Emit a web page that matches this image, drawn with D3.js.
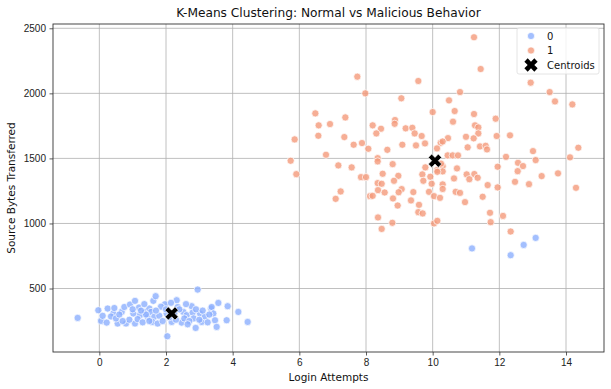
<!DOCTYPE html>
<html>
<head>
<meta charset="utf-8">
<script src="https://cdn.jsdelivr.net/npm/d3@7"></script>
<style>
  body { margin: 0; background: #fff; }
  svg { font-family: "DejaVu Sans", sans-serif; }
</style>
</head>
<body>
<svg id="chart"></svg>
<script>
// Data: [login attempts, source bytes]
const normalPoints = [
  [-0.65, 274], [-0.03, 333], [0.05, 251], [0.25, 346], [0.22, 238], [0.42, 308], [0.35, 285],
  [0.55, 231], [0.67, 320], [0.75, 358], [0.8, 231], [0.92, 377], [1.07, 405], [1.02, 308],
  [1.07, 231], [1.19, 354], [1.22, 295], [1.37, 320], [1.45, 280], [1.5, 346], [1.62, 405],
  [1.69, 441], [1.55, 320], [1.65, 282], [1.59, 243], [1.75, 231], [1.97, 379], [2.02, 308],
  [2.04, 133], [2.17, 243], [2.32, 410], [2.35, 358], [2.47, 238], [2.52, 320], [2.62, 295],
  [2.77, 364], [2.8, 315], [2.83, 270], [2.89, 197], [2.95, 492], [3.02, 308], [3.07, 243],
  [3.17, 285], [3.35, 346], [3.37, 358], [3.42, 308], [3.47, 256], [3.52, 205], [3.57, 389],
  [3.85, 364], [3.82, 256], [4.17, 320], [4.45, 243], [0.1, 290], [0.5, 270], [0.6, 300],
  [0.9, 260], [1.0, 340], [1.15, 265], [1.3, 240], [1.35, 380], [1.4, 300], [1.5, 250],
  [1.8, 290], [1.85, 360], [1.9, 250], [2.0, 340], [2.1, 280], [2.25, 310], [2.3, 260],
  [2.4, 340], [2.55, 270], [2.6, 380], [2.7, 250], [2.9, 340], [3.0, 260], [3.1, 330],
  [3.25, 240], [3.3, 300], [0.45, 350], [1.7, 330], [2.15, 390], [2.65, 225], [1.25, 330],
  [0.7, 250], [11.18, 808], [12.34, 756], [12.73, 835], [13.09, 889]
];

const maliciousPoints = [
  [7.74, 2128], [9.57, 2095], [7.98, 2000], [9.06, 1962], [6.48, 1846], [10.0, 1856],
  [6.58, 1754], [6.92, 1764], [7.38, 1815], [8.87, 1795], [8.86, 1766], [6.57, 1674],
  [7.35, 1664], [8.2, 1754], [8.45, 1728], [8.31, 1692], [9.19, 1731], [9.39, 1735],
  [9.46, 1692], [9.67, 1672], [9.77, 1615], [10.24, 1620], [7.63, 1605], [7.88, 1618],
  [8.07, 1574], [8.64, 1566], [9.09, 1605], [9.5, 1600], [10.13, 1577], [6.8, 1528],
  [8.35, 1502], [8.35, 1477], [7.17, 1446], [7.57, 1431], [8.8, 1456], [9.78, 1431],
  [10.13, 1410], [7.85, 1356], [8.0, 1356], [8.5, 1382], [8.97, 1366], [9.69, 1377],
  [9.93, 1359], [8.35, 1310], [8.47, 1305], [8.84, 1328], [9.72, 1328], [9.97, 1305],
  [7.24, 1246], [8.36, 1256], [8.56, 1238], [9.07, 1264], [8.98, 1240], [9.42, 1241],
  [9.89, 1243], [7.09, 1189], [8.12, 1210], [8.2, 1212], [8.81, 1192], [9.35, 1177],
  [10.04, 1210], [10.22, 1197], [8.95, 1138], [9.59, 1143], [9.57, 1087], [9.7, 1077],
  [8.36, 1046], [8.79, 1005], [8.47, 958], [10.04, 1000], [10.14, 1020], [5.86, 1646],
  [5.74, 1482], [5.91, 1379], [11.24, 2431], [11.44, 2187], [12.94, 2082], [10.82, 2010],
  [13.51, 2010], [13.67, 1938], [14.19, 1915], [10.49, 1946], [10.66, 1864], [11.24, 1841],
  [10.61, 1782], [11.89, 1805], [11.27, 1754], [11.37, 1738], [11.37, 1692], [11.23, 1654],
  [11.0, 1666], [10.46, 1656], [10.3, 1630], [11.92, 1672], [12.32, 1677], [11.05, 1585],
  [11.42, 1592], [11.59, 1597], [11.63, 1569], [13.01, 1556], [14.37, 1582], [10.45, 1523],
  [10.6, 1523], [10.76, 1523], [12.2, 1512], [13.09, 1487], [14.12, 1508], [10.73, 1423],
  [11.95, 1436], [12.56, 1466], [12.71, 1441], [12.55, 1402], [13.76, 1385], [13.27, 1364],
  [11.02, 1377], [11.25, 1380], [11.35, 1351], [10.64, 1346], [11.1, 1340], [10.3, 1440],
  [10.3, 1400], [12.47, 1320], [12.89, 1302], [11.65, 1295], [11.95, 1277], [14.3, 1274],
  [10.69, 1243], [10.82, 1235], [11.5, 1205], [10.97, 1164], [10.3, 1300], [10.3, 1265],
  [11.72, 1082], [12.11, 1058], [11.74, 1010], [12.34, 938], [10.14, 1397], [10.25, 1460]
];

const centroids = [[2.17, 308], [10.07, 1482]];

const xTicks = [0, 2, 4, 6, 8, 10, 12, 14];
const yTicks = [500, 1000, 1500, 2000, 2500];
const legendLabels = ["0", "1", "Centroids"];

const width = 611;
const height = 389;
const margin = { top: 24, right: 7, bottom: 37, left: 53 };
const colors = ["#8caffe", "#f49a7b"];

const svg = d3.select("#chart").attr("width", width).attr("height", height);

const x = d3.scaleLinear().domain([-1.39, 15.14]).range([margin.left, width - margin.right]);
const y = d3.scaleLinear().domain([12, 2533]).range([height - margin.bottom, margin.top]);

// grid
svg.append("g")
  .selectAll("line")
  .data(xTicks)
  .join("line")
  .attr("x1", d => x(d)).attr("x2", d => x(d))
  .attr("y1", margin.top).attr("y2", height - margin.bottom)
  .style("stroke", "#b0b0b0").style("stroke-width", 0.8);

svg.append("g")
  .selectAll("line")
  .data(yTicks)
  .join("line")
  .attr("x1", margin.left).attr("x2", width - margin.right)
  .attr("y1", d => y(d)).attr("y2", d => y(d))
  .style("stroke", "#b0b0b0").style("stroke-width", 0.8);

// points
const groups = [normalPoints, maliciousPoints];
groups.forEach((pts, i) => {
  svg.append("g")
    .selectAll("circle")
    .data(pts)
    .join("circle")
    .attr("cx", d => x(d[0]))
    .attr("cy", d => y(d[1]))
    .attr("r", 3.6)
    .style("fill", colors[i])
    .style("fill-opacity", 0.8)
    .style("stroke", "#fff")
    .style("stroke-width", 0.7);
});

// centroids
const xMark = d3.symbol().type(d3.symbolCross).size(110);
svg.append("g")
  .selectAll("path")
  .data(centroids)
  .join("path")
  .attr("d", xMark)
  .attr("transform", d => `translate(${x(d[0])},${y(d[1])}) rotate(45)`)
  .style("fill", "#000")
  .style("stroke", "#fff")
  .style("stroke-width", 0.6);

// axes
const xAxis = svg.append("g")
  .attr("transform", `translate(0,${height - margin.bottom})`)
  .call(d3.axisBottom(x).tickValues(xTicks).tickFormat(d3.format("d")).tickSize(3.5).tickPadding(3.5));
const yAxis = svg.append("g")
  .attr("transform", `translate(${margin.left},0)`)
  .call(d3.axisLeft(y).tickValues(yTicks).tickFormat(d3.format("d")).tickSize(3.5).tickPadding(3.5));

[xAxis, yAxis].forEach(a => {
  a.select(".domain").remove();
  a.selectAll("text").style("font-size", "10px").style("fill", "#222").attr("font-family", null);
  a.selectAll("line").style("stroke", "#333").style("stroke-width", 0.8);
});

// frame
svg.append("rect")
  .attr("x", margin.left).attr("y", margin.top)
  .attr("width", width - margin.left - margin.right)
  .attr("height", height - margin.top - margin.bottom)
  .style("fill", "none").style("stroke", "#333").style("stroke-width", 0.9);

// title and labels
svg.append("text")
  .attr("x", (margin.left + width - margin.right) / 2).attr("y", 17)
  .attr("text-anchor", "middle")
  .style("font-size", "12.2px").style("fill", "#111")
  .text("K-Means Clustering: Normal vs Malicious Behavior");

svg.append("text")
  .attr("x", (margin.left + width - margin.right) / 2).attr("y", 381)
  .attr("text-anchor", "middle")
  .style("font-size", "10.5px").style("fill", "#111")
  .text("Login Attempts");

svg.append("text")
  .attr("transform", `translate(15,${(margin.top + height - margin.bottom) / 2}) rotate(-90)`)
  .attr("text-anchor", "middle")
  .style("font-size", "10.5px").style("fill", "#111")
  .text("Source Bytes Transferred");

// legend
const legend = svg.append("g").attr("transform", "translate(517,28)");
legend.append("rect")
  .attr("width", 82).attr("height", 46).attr("rx", 2)
  .style("fill", "#fff").style("fill-opacity", 0.8)
  .style("stroke", "#ddd").style("stroke-width", 0.8);

const entry = legend.selectAll("g")
  .data(legendLabels)
  .join("g")
  .attr("transform", (d, i) => `translate(14,${8 + i * 14.5})`);

entry.filter((d, i) => i < 2)
  .append("circle")
  .attr("r", 3.6)
  .style("fill", (d, i) => colors[i])
  .style("fill-opacity", 0.8)
  .style("stroke", "#fff").style("stroke-width", 0.7);

entry.filter((d, i) => i === 2)
  .append("path")
  .attr("d", xMark)
  .attr("transform", "rotate(45)")
  .style("fill", "#000");

entry.append("text")
  .attr("x", 16).attr("dy", "0.35em")
  .style("font-size", "10px").style("fill", "#111")
  .text(d => d);
</script>
</body>
</html>
